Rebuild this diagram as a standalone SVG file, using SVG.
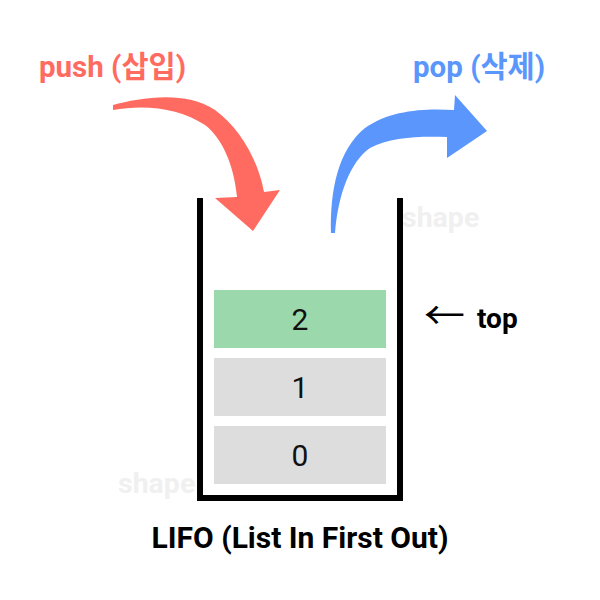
<svg xmlns="http://www.w3.org/2000/svg" width="600" height="600" viewBox="0 0 600 600">
<style>
text{font-family:Roboto,"Noto Sans CJK KR","Noto Sans",sans-serif}
.wm{font-size:28.5px;font-weight:700;fill:#f0f0f0}
.num{font-size:30px;fill:#111;text-anchor:middle}
.lbl{font-size:29.5px;font-weight:700}
.cell-gray{fill:#dddddd}
</style>
<rect width="600" height="600" fill="#fff"/>
<text class="wm" x="402" y="227">shape</text>
<text class="wm" x="118" y="493">shape</text>
<g id="push-label"><text class="lbl" x="39" y="77" fill="#ff6b60">push (삽입)</text></g>
<g id="pop-label"><text class="lbl" x="413" y="77" fill="#5a96fc">pop (삭제)</text></g>
<g id="connectors">
<path id="push-arrow" fill="#ff6b60" d="M113,105 C140,98 185,90 215,110 C240,128 258,160 264,192 L280,190 L253,231 L215,198 L237,197 C234,165 222,138 205,125 C180,108 145,104 113,110 Z"/>
<path id="pop-arrow" fill="#5a96fc" d="M331,233 C330,190 338,150 365,128 C390,110 425,108 454,110 L455,95 L487,131 L447,158 L447,137 C420,136 390,137 370,148 C350,162 338,195 335,233 Z"/>
</g>
<g id="stack">
<path d="M200,198 V498 H400 V198" fill="none" stroke="#000" stroke-width="6"/>
</g>
<g id="cell-2"><rect x="214" y="290" width="172" height="58" fill="#9bd8ab"/><text class="num" x="300" y="330">2</text></g>
<g id="cell-1"><rect class="cell-gray" x="214" y="358" width="172" height="58"/><text class="num" x="300" y="398">1</text></g>
<g id="cell-0"><rect class="cell-gray" x="214" y="426" width="172" height="58"/><text class="num" x="300" y="466">0</text></g>
<g id="top-label"><text x="424" y="329" font-size="28" fill="#000"><tspan font-weight="400" font-size="38" textLength="41" lengthAdjust="spacingAndGlyphs">←</tspan><tspan font-weight="700" x="477" y="328">top</tspan></text></g>
<g id="caption"><text x="300" y="548" font-size="30" font-weight="700" text-anchor="middle" fill="#000">LIFO (List In First Out)</text></g>
</svg>
